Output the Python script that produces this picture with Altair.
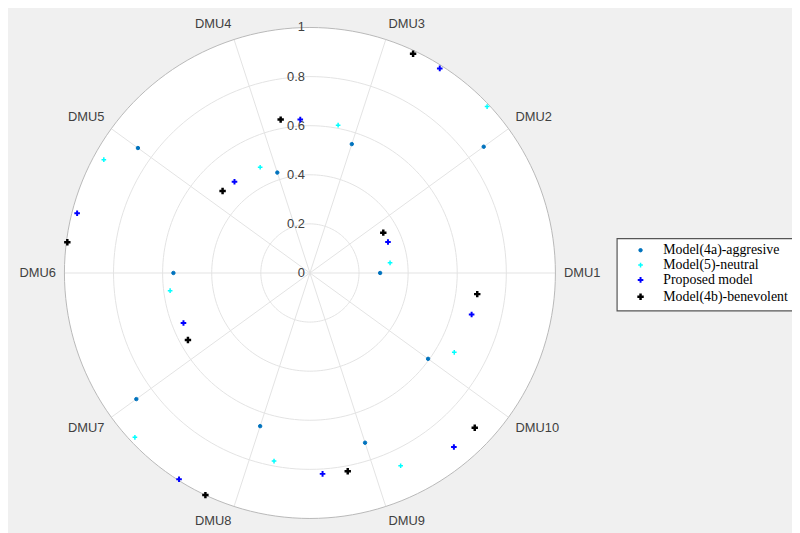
import altair as alt
import pandas as pd

# ---- data ----
dmus = ["DMU1", "DMU2", "DMU3", "DMU4", "DMU5", "DMU6", "DMU7", "DMU8", "DMU9", "DMU10"]
models = ["Model(4a)-aggresive", "Model(5)-neutral", " Proposed model", "Model(4b)-benevolent"]
aggressive = [0.286, 0.875, 0.552, 0.430, 0.866, 0.556, 0.874, 0.656, 0.727, 0.595]
neutral = [0.329, 0.990, 0.613, 0.476, 0.958, 0.574, 0.978, 0.780, 0.868, 0.671]
proposed = [0.342, 0.987, 0.626, 0.482, 0.979, 0.554, 0.995, 0.820, 0.920, 0.680]
benevolent = [0.341, 0.987, 0.636, 0.488, 0.996, 0.567, 1.000, 0.822, 0.921, 0.687]
angle_offsets = [0, 7.2, 21.6, 28.8]  # angular shift (deg) of each series from its DMU spoke
ring_values = [0.2, 0.4, 0.6, 0.8, 1.0]
tick_values = [0, 0.2, 0.4, 0.6, 0.8, 1]

colors = ["#0072BD", "#00FFFF", "#0000FF", "#000000"]
PLUS = "M-1,0L1,0M0,-1L0,1"

rows = []
for m, vals, off in zip(models, [aggressive, neutral, proposed, benevolent], angle_offsets):
    for i, (d, v) in enumerate(zip(dmus, vals)):
        rows.append({"model": m, "dmu": d, "idx": i, "offset": off, "value": v})
pts = pd.DataFrame(rows)
dmu_df = pd.DataFrame({"dmu": dmus, "idx": list(range(len(dmus)))})

sc = alt.Scale(domain=[-1, 1], nice=False, zero=False)
X = lambda f: alt.X(f, type="quantitative", scale=sc, axis=None)
Y = lambda f: alt.Y(f, type="quantitative", scale=sc, axis=None)

TXT_FONT = "Liberation Sans"
TXT_COLOR = "#404040"

# white disc (unit circle filled)
disc = alt.Chart(pd.DataFrame({"k": [0]})).transform_calculate(
    t="sequence(0, 180.25, 0.5)"
).transform_flatten(["t"]).transform_calculate(
    u="-cos(datum.t*PI/180)",
    top="sin(datum.t*PI/180)",
    bot="-sin(datum.t*PI/180)",
).mark_area(color="white", opacity=1, orient="vertical").encode(
    x=X("u"), y=Y("top"), y2="bot:Q"
)

ring_base = alt.Chart(pd.DataFrame({"r": ring_values})).transform_calculate(
    deg="sequence(0, 362, 2)"
).transform_flatten(["deg"]).transform_calculate(
    x="datum.r*cos(datum.deg*PI/180)", y="datum.r*sin(datum.deg*PI/180)"
)
inner_rings = ring_base.transform_filter("datum.r < 0.99").mark_line(
    color="#e3e3e3", strokeWidth=1
).encode(x=X("x"), y=Y("y"), detail="r:N", order="deg:Q")
outer_ring = ring_base.transform_filter("datum.r >= 0.99").mark_line(
    color="#b8b8b8", strokeWidth=1
).encode(x=X("x"), y=Y("y"), detail="r:N", order="deg:Q")

spokes = alt.Chart(dmu_df).transform_calculate(
    ang="datum.idx*36*PI/180", x0="0", y0="0",
    x1="cos(datum.ang)", y1="sin(datum.ang)"
).mark_rule(color="#e3e3e3", strokeWidth=1).encode(
    x=X("x0"), y=Y("y0"), x2="x1:Q", y2="y1:Q"
)

ticks = alt.Chart(pd.DataFrame({"r": tick_values})).transform_calculate(x0="0").mark_text(
    align="right", baseline="middle", dx=-5, font=TXT_FONT, fontSize=13, color=TXT_COLOR
).encode(x=X("x0"), y=Y("r"), text=alt.Text("r:Q", format="~g"))

points = alt.Chart(pts).transform_calculate(
    theta="(datum.idx*36 + datum.offset)*PI/180",
    x="datum.value*cos(datum.theta)",
    y="datum.value*sin(datum.theta)",
).mark_point(filled=False, opacity=1).encode(
    x=X("x"), y=Y("y"),
    color=alt.Color("model:N", scale=alt.Scale(domain=models, range=colors), title=None),
    fill=alt.Fill("model:N", scale=alt.Scale(domain=models, range=colors), title=None),
    shape=alt.Shape("model:N", scale=alt.Scale(domain=models, range=["circle", PLUS, PLUS, PLUS]), title=None),
    size=alt.Size("model:N", scale=alt.Scale(domain=models, range=[12, 42, 105, 115]), title=None),
    strokeWidth=alt.StrokeWidth("model:N", scale=alt.Scale(domain=models, range=[1, 2.5, 2.2, 1.8]), title=None),
)

# DMU labels, grouped by text alignment
label_layers = []
combos = [
    ("left", "middle", "datum.idx == 0"),
    ("left", "bottom", "datum.idx == 1 || datum.idx == 2"),
    ("right", "bottom", "datum.idx == 3 || datum.idx == 4"),
    ("right", "middle", "datum.idx == 5"),
    ("right", "top", "datum.idx == 6 || datum.idx == 7"),
    ("left", "top", "datum.idx == 8 || datum.idx == 9"),
]
for al, bl, cond in combos:
    label_layers.append(
        alt.Chart(dmu_df).transform_filter(cond).transform_calculate(
            ang="datum.idx*36*PI/180",
            x="1.035*cos(datum.ang)", y="1.035*sin(datum.ang)"
        ).mark_text(align=al, baseline=bl, font=TXT_FONT, fontSize=13, color=TXT_COLOR).encode(
            x=X("x"), y=Y("y"), text="dmu:N"
        )
    )

chart = alt.layer(disc, inner_rings, spokes, outer_ring, ticks, points, *label_layers).properties(
    width=496, height=496,
    padding={"left": 57, "top": 17, "right": 239, "bottom": 12},
    autosize=alt.AutoSizeParams(type="none"),
    background="#f0f0f0",
).configure_view(stroke=None).configure_legend(
    orient="none", legendX=558, legendY=213,
    fillColor="white", strokeColor="#555555", strokeWidth=1.2,
    padding=5, labelFont="Liberation Serif", labelFontSize=14, labelColor="black",
    rowPadding=1, labelOffset=16, symbolOffset=12, labelLimit=300,
)

chart.save("out.html", embed_options={"renderer": "svg", "actions": False})
